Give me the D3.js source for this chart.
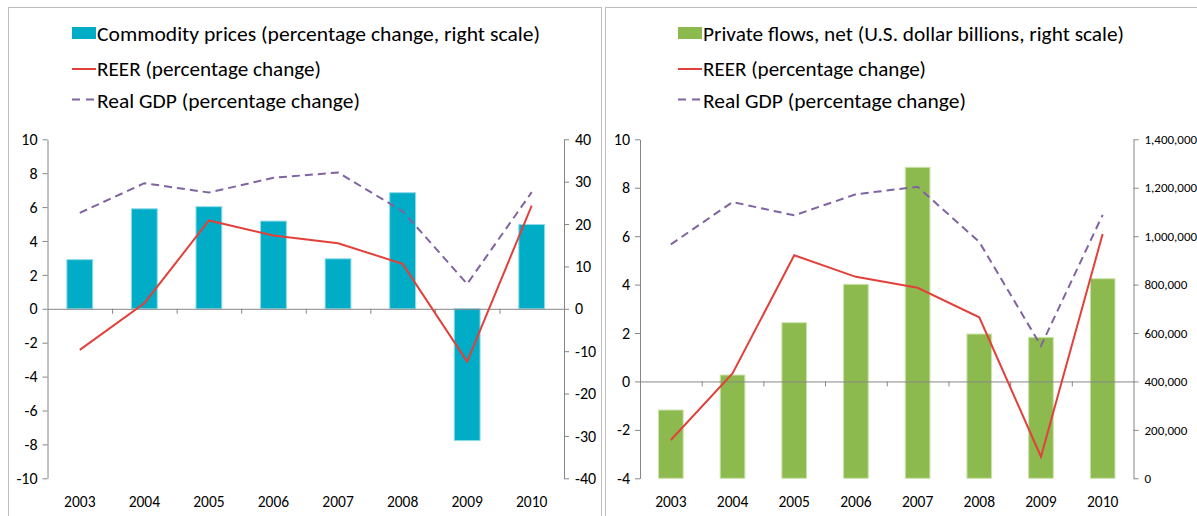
<!DOCTYPE html>
<html>
<head>
<meta charset="utf-8">
<script src="https://cdn.jsdelivr.net/npm/d3@7"></script>
<style>
    html, body { margin: 0; padding: 0; background: #fff; }
    svg { display: block; font-family: Carlito, Calibri, Lato, sans-serif; }
</style>
</head>
<body>
<div id="dataChart"></div>
<script>
// Data
const years = ['2003', '2004', '2005', '2006', '2007', '2008', '2009', '2010']
const reer = [-2.42, 0.33, 5.21, 4.32, 3.87, 2.65, -3.11, 6.09]
const realGdp = [5.66, 7.41, 6.86, 7.73, 8.04, 5.76, 1.47, 6.88]
const commodityPrices = [11.6, 23.6, 24.1, 20.7, 11.8, 27.4, -31.1, 19.9]
const privateFlows = [282000, 426600, 642600, 801200, 1284400, 595900, 582300, 824300]

const leftTicksA = [-10, -8, -6, -4, -2, 0, 2, 4, 6, 8, 10]
const rightTicksA = [-40, -30, -20, -10, 0, 10, 20, 30, 40]
const leftTicksB = [-4, -2, 0, 2, 4, 6, 8, 10]
const rightTicksB = [0, 200000, 400000, 600000, 800000, 1000000, 1200000, 1400000]

const legendLabelsA = ['Commodity prices (percentage change, right scale)', 'REER (percentage change)', 'Real GDP (percentage change)']
const legendLabelsB = ['Private flows, net (U.S. dollar billions, right scale)', 'REER (percentage change)', 'Real GDP (percentage change)']

document.addEventListener('DOMContentLoaded', () => {
    const width = 1197
    const height = 516
    const axisColour = '#868686'
    const textColour = '#000'
    const reerColour = '#e2413b'
    const gdpColour = '#8064a2'

    const svg = d3.select('#dataChart')
        .append('svg')
        .attr('width', width)
        .attr('height', height)
        .attr('viewBox', [0, 0, width, height])

    // plain hyphen for negatives, like the original
    const plain = d => String(d)
    const withCommas = d => d3.format(',')(d)
    const fitText = (sel, target) => sel.attr('textLength', target).attr('lengthAdjust', 'spacingAndGlyphs')
    const styleAxis = (a, size) => {
        a.attr('font-family', null).attr('font-size', null)
        a.selectAll('path, line').attr('stroke', axisColour)
        a.selectAll('text').style('font-size', size + 'px').attr('fill', textColour)
    }

    function panel(cfg) {
        const g = svg.append('g')

        // frame
        g.append('rect')
            .attr('x', cfg.frame[0] + 0.5)
            .attr('y', cfg.frame[1] + 0.5)
            .attr('width', cfg.frame[2])
            .attr('height', cfg.frame[3])
            .attr('fill', 'none')
            .attr('stroke', '#bfbfbf')

        const x = d3.scaleBand().domain(years).range([cfg.left, cfg.right])
        const xEdge = d3.scaleLinear().domain([0, years.length]).range([cfg.left, cfg.right])
        const y = d3.scaleLinear().domain(cfg.leftDomain).range([cfg.bottom, cfg.top])
        const y2 = d3.scaleLinear().domain(cfg.rightDomain).range([cfg.bottom, cfg.top])
        const barWidth = x.step() * 0.40

        // bars
        g.append('g')
            .selectAll('rect')
            .data(cfg.bars)
            .enter()
            .append('rect')
            .attr('x', (d, i) => x(years[i]) + (x.step() - barWidth) / 2)
            .attr('width', barWidth)
            .attr('y', d => Math.min(y2(d), y2(cfg.barBase)))
            .attr('height', d => Math.abs(y2(d) - y2(cfg.barBase)))
            .attr('fill', cfg.barColour)
            .attr('stroke', cfg.barEdge)
            .attr('stroke-width', 1)

        // category axis line at zero
        g.append('g')
            .attr('transform', `translate(0, ${y(0)})`)
            .call(d3.axisBottom(xEdge).tickValues(d3.range(1, years.length)).tickSize(5).tickSizeOuter(0).tickFormat(''))
            .call(a => styleAxis(a, 16))

        // category labels at the bottom
        g.append('g')
            .attr('transform', `translate(0, ${cfg.bottom})`)
            .call(d3.axisBottom(x).tickSize(0).tickPadding(18))
            .call(a => a.select('.domain').remove())
            .call(a => styleAxis(a, 15.5))

        // left axis
        g.append('g')
            .attr('transform', `translate(${cfg.left}, 0)`)
            .call(d3.axisLeft(y).tickValues(cfg.leftTicks).tickSize(5).tickSizeOuter(0).tickPadding(5).tickFormat(plain))
            .call(a => styleAxis(a, 16))

        // right axis
        g.append('g')
            .attr('transform', `translate(${cfg.right}, 0)`)
            .call(d3.axisRight(y2).tickValues(cfg.rightTicks).tickSize(5).tickSizeOuter(0).tickPadding(6).tickFormat(cfg.rightFormat))
            .call(a => styleAxis(a, cfg.rightFontSize))

        // lines
        const line = d3.line()
            .x((d, i) => x(years[i]) + x.step() / 2)
            .y(d => y(d))
        g.append('path')
            .datum(realGdp)
            .attr('d', line)
            .attr('fill', 'none')
            .attr('stroke', gdpColour)
            .attr('stroke-width', 2)
            .attr('stroke-dasharray', '8,5')
        g.append('path')
            .datum(reer)
            .attr('d', line)
            .attr('fill', 'none')
            .attr('stroke', reerColour)
            .attr('stroke-width', 2)

        // legend
        const lg = g.append('g').attr('transform', `translate(${cfg.legendX}, 0)`)
        const rows = [40.5, 76, 108]
        lg.append('rect')
            .attr('x', 0).attr('y', 27)
            .attr('width', cfg.swatchWidth).attr('height', 12)
            .attr('fill', cfg.barColour)
        lg.append('line')
            .attr('x1', 0).attr('x2', cfg.swatchWidth)
            .attr('y1', 69).attr('y2', 69)
            .attr('stroke', reerColour).attr('stroke-width', 2)
        lg.append('line')
            .attr('x1', 0).attr('x2', 22)
            .attr('y1', 99.5).attr('y2', 99.5)
            .attr('stroke', gdpColour).attr('stroke-width', 2)
            .attr('stroke-dasharray', '8,6')
        lg.selectAll('text.legend-label')
            .data(cfg.legend)
            .enter()
            .append('text')
            .attr('class', 'legend-label')
            .attr('x', cfg.swatchWidth + 1)
            .attr('y', (d, i) => rows[i])
            .attr('font-size', 21)
            .attr('fill', textColour)
            .text(d => d)
            .each(function (d, i) { fitText(d3.select(this), cfg.legendWidths[i]) })
    }

    panel({
        frame: [8, 7, 593, 520],
        left: 47.5, right: 564, top: 139.3, bottom: 478.3,
        leftDomain: [-10, 10], rightDomain: [-40, 40],
        leftTicks: leftTicksA, rightTicks: rightTicksA,
        rightFormat: plain, rightFontSize: 16,
        bars: commodityPrices, barBase: 0,
        barColour: '#00acc6', barEdge: '#8fdbe8',
        legend: legendLabelsA, legendX: 72, swatchWidth: 24,
        legendWidths: [443, 224, 263]
    })

    panel({
        frame: [605, 7, 600, 520],
        left: 640, right: 1133.5, top: 139.3, bottom: 478.3,
        leftDomain: [-4, 10], rightDomain: [0, 1400000],
        leftTicks: leftTicksB, rightTicks: rightTicksB,
        rightFormat: withCommas, rightFontSize: 13,
        bars: privateFlows, barBase: 0,
        barColour: '#8dba4e', barEdge: '#cde3ac',
        legend: legendLabelsB, legendX: 678, swatchWidth: 24,
        legendWidths: [421, 223, 263]
    })
})
</script>
</body>
</html>
